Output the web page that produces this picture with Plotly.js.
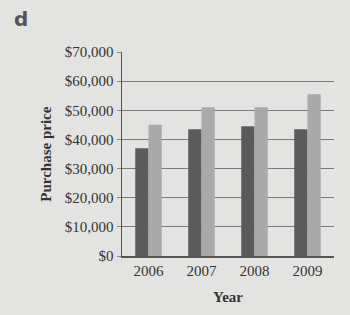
<!DOCTYPE html>
<html><head><meta charset="utf-8">
<script src="https://cdn.plot.ly/plotly-3.0.1.min.js"></script>
<style>html,body{margin:0;padding:0;background:#e3e3e1;}#c{width:350px;height:315px;}</style>
</head><body><div id="c"></div>
<script>
const years = ['2006', '2007', '2008', '2009'];
const seriesA = [37000, 43500, 44500, 43500];
const seriesB = [45000, 51000, 51000, 55500];
const tickVals = [0, 10000, 20000, 30000, 40000, 50000, 60000, 70000];
const tickText = ['$0', '$10,000', '$20,000', '$30,000', '$40,000', '$50,000', '$60,000', '$70,000'];

const serif = 'Liberation Serif, DejaVu Serif, serif';
const data = [
  {type: 'bar', x: years, y: seriesA, marker: {color: '#5b5b5b'}, hoverinfo: 'skip'},
  {type: 'bar', x: years, y: seriesB, marker: {color: '#a9a9a9'}, hoverinfo: 'skip'}
];
const layout = {
  width: 350, height: 315,
  margin: {l: 122, r: 16, t: 52, b: 59},
  paper_bgcolor: '#e3e3e1', plot_bgcolor: '#e3e3e1',
  showlegend: false,
  barmode: 'group', bargap: 0.5, bargroupgap: 0,
  font: {family: serif, size: 15, color: '#333'},
  xaxis: {
    type: 'category', showgrid: false, showline: true, linecolor: '#555', linewidth: 1.5,
    ticks: '', tickfont: {family: serif, size: 15, color: '#333'}
  },
  yaxis: {
    range: [0, 70000], tickvals: tickVals, ticktext: tickText,
    showgrid: true, gridcolor: '#7a7a7a', gridwidth: 1.2,
    showline: true, linecolor: '#555', linewidth: 1.5,
    ticks: 'outside', ticklen: 4, tickcolor: '#888',
    tickfont: {family: serif, size: 15, color: '#333'}, zeroline: false
  },
  annotations: [
    {text: '<b>d</b>', x: -0.52, y: 1.23, xref: 'paper', yref: 'paper', showarrow: false,
     xanchor: 'left', yanchor: 'top', font: {family: 'DejaVu Sans, sans-serif', size: 20, color: '#555'}},
    {text: '<b>Purchase price</b>', textangle: -90, showarrow: false,
     xref: 'paper', yref: 'paper', x: -0.36, y: 0.5, xanchor: 'center', yanchor: 'middle',
     font: {family: serif, size: 15, color: '#333'}},
    {text: '<b>Year</b>', showarrow: false, xref: 'paper', yref: 'paper', x: 0.5, y: -0.15,
     xanchor: 'center', yanchor: 'top', font: {family: serif, size: 15, color: '#333'}}
  ]
};
Plotly.newPlot('c', data, layout, {staticPlot: true, displayModeBar: false});
</script></body></html>
